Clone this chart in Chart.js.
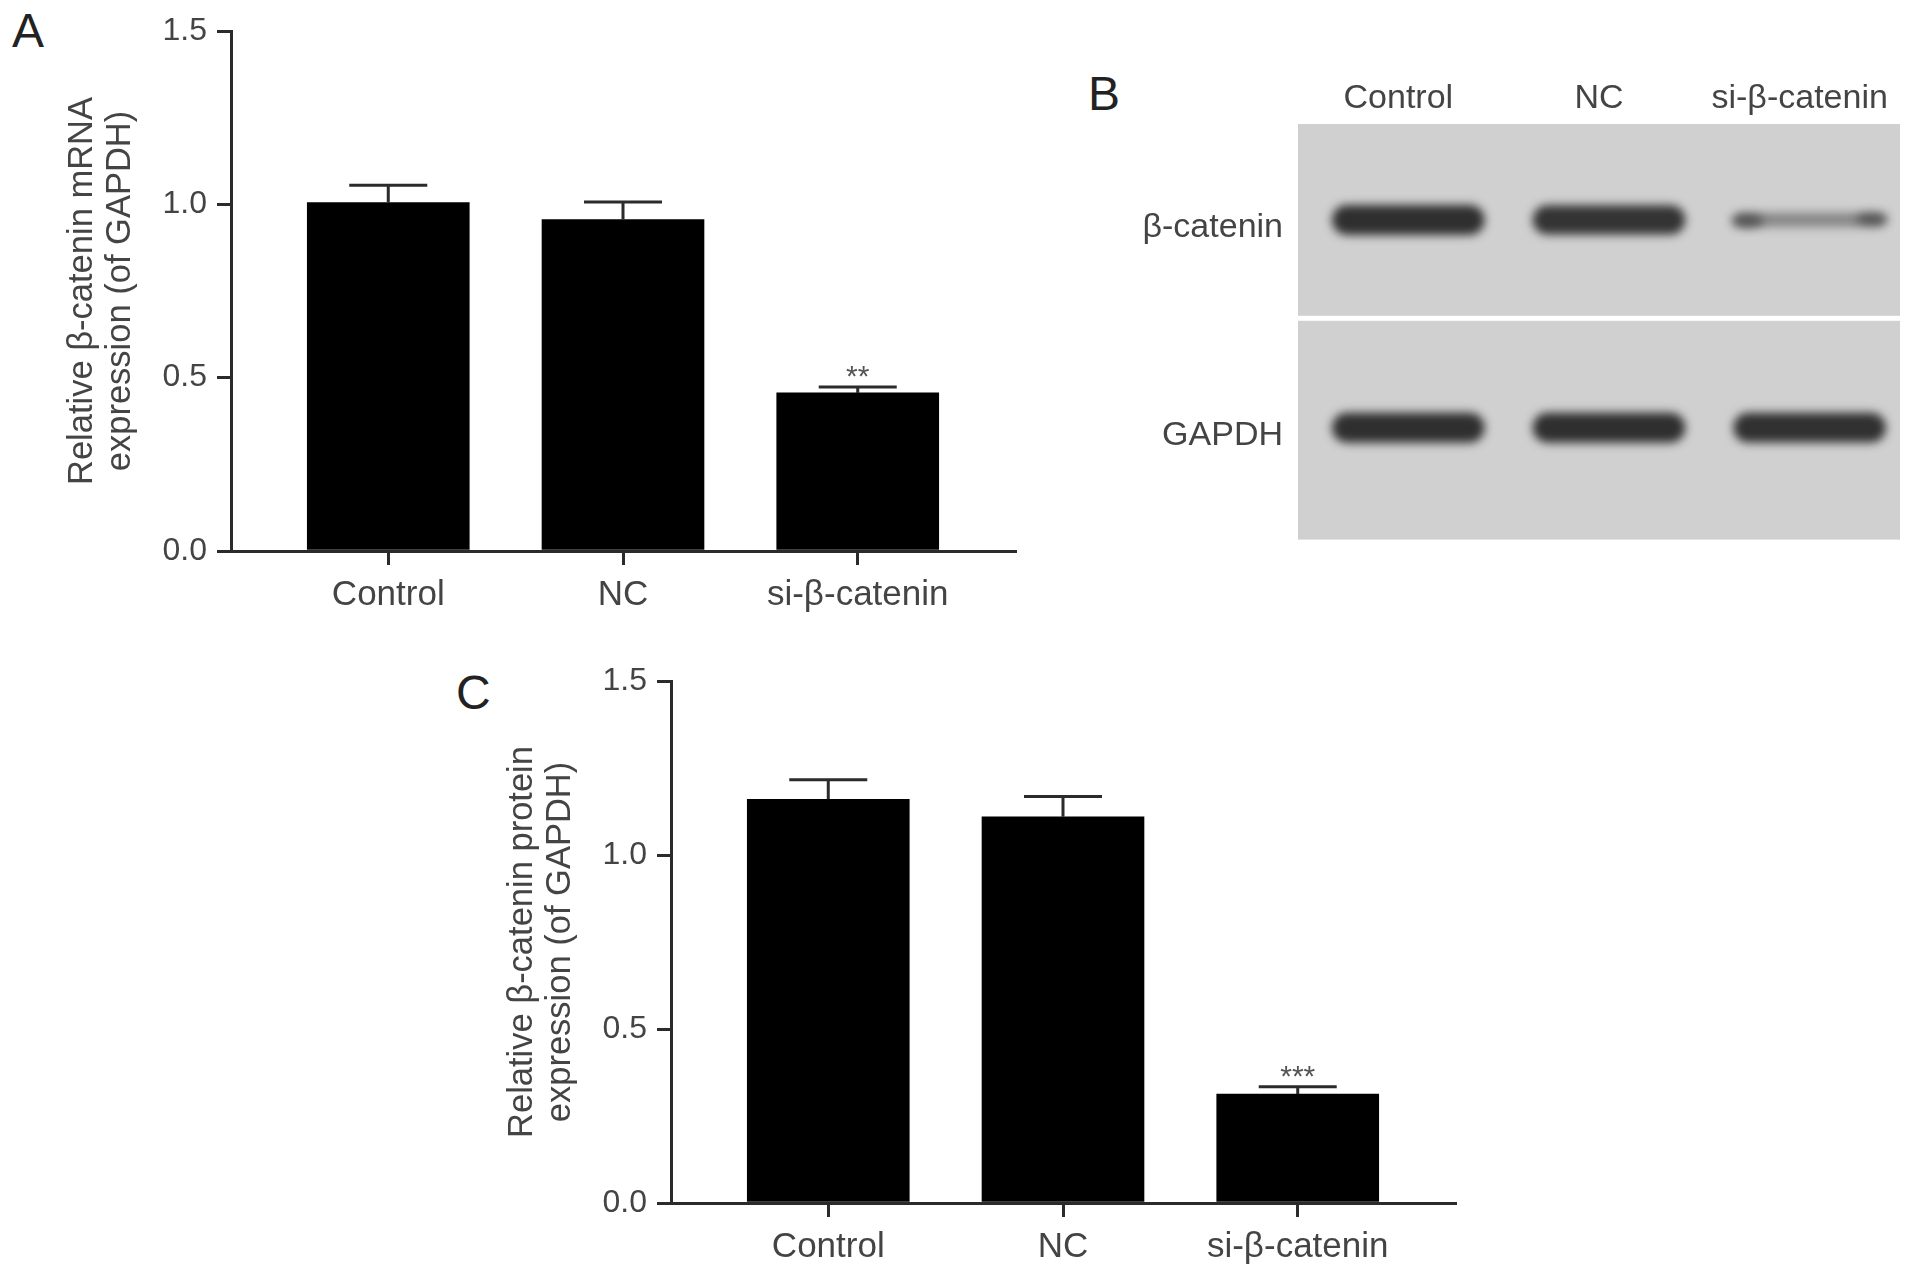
<!DOCTYPE html>
<html>
<head>
<meta charset="utf-8">
<script src="https://cdn.jsdelivr.net/npm/chart.js@4.4.1/dist/chart.umd.min.js"></script>
<style>
  body { margin: 0; width: 1913px; height: 1277px; background: #fff; overflow: hidden; position: relative; }
  canvas { position: absolute; }
  .panel { position: absolute; font-family: 'Liberation Sans', Arial, sans-serif; font-size: 48px; line-height: 1; color: #222; }
</style>
</head>
<body>
<div class="panel" style="left:12px;top:7px">A</div>
<div class="panel" style="left:1088px;top:70px">B</div>
<div class="panel" style="left:456px;top:669px">C</div>

<canvas id="chartA" width="1040" height="640" style="left:0;top:0"></canvas>
<canvas id="chartB" width="833" height="527" style="left:1080px;top:40px"></canvas>
<canvas id="chartC" width="1040" height="637" style="left:440px;top:640px"></canvas>

<script>
// datos
const categorias = ["Control", "NC", "si-β-catenin"];
const ticksY = [0, 0.5, 1.0, 1.5];

const mediasARNm = [1.005, 0.956, 0.456];
const erroresARNm = [0.05, 0.051, 0.017];
const marcasARNm = ["", "", "**"];

const mediasProteina = [1.16, 1.11, 0.313];
const erroresProteina = [0.056, 0.058, 0.021];
const marcasProteina = ["", "", "***"];

const carriles = ["Control", "NC", "si-β-catenin"];
const filasBlot = ["β-catenin", "GAPDH"];
const bandasBetaCatenina = [1.0, 0.95, 0.22];
const bandasGAPDH = [1.0, 1.0, 0.98];

Chart.defaults.font.family = "'Liberation Sans', Arial, sans-serif";
Chart.defaults.color = "#444";

const colorEje = "#2b2b2b";

// barras de error (solo la parte superior) y asteriscos
const barrasError = {
  id: "barrasError",
  afterDatasetsDraw(chart, args, opts) {
    const { ctx, scales: { x, y } } = chart;
    ctx.save();
    ctx.strokeStyle = colorEje;
    ctx.lineWidth = 3;
    ctx.fillStyle = "#555";
    ctx.font = "30px 'Liberation Sans', Arial, sans-serif";
    ctx.textAlign = "center";
    ctx.textBaseline = "alphabetic";
    opts.medias.forEach((m, i) => {
      const px = x.getPixelForValue(i);
      const base = y.getPixelForValue(m);
      const tope = y.getPixelForValue(m + opts.errores[i]);
      ctx.beginPath();
      ctx.moveTo(px, base);
      ctx.lineTo(px, tope);
      ctx.moveTo(px - 39, tope);
      ctx.lineTo(px + 39, tope);
      ctx.stroke();
      if (opts.marcas[i]) {
        ctx.fillText(opts.marcas[i], px, tope - 1);
      }
    });
    ctx.restore();
  }
};

function graficoBarras(idCanvas, medias, errores, marcas, titulo, geo) {
  const ctx = document.getElementById(idCanvas).getContext("2d");
  return new Chart(ctx, {
    type: "bar",
    data: {
      datasets: [{
        data: medias.map((m, i) => ({ x: i, y: m })),
        backgroundColor: "#000",
        borderWidth: 0,
        barThickness: 162
      }]
    },
    options: {
      responsive: false,
      animation: false,
      layout: { padding: { top: geo.arriba, right: geo.derecha, left: 0, bottom: 0 } },
      plugins: {
        legend: { display: false },
        tooltip: { enabled: false },
        barrasError: { medias: medias, errores: errores, marcas: marcas }
      },
      scales: {
        x: {
          type: "linear",
          offset: false,
          min: -0.67,
          max: 2.67,
          afterBuildTicks: (s) => { s.ticks = categorias.map((_, i) => ({ value: i })); },
          afterFit: (s) => { s.height = geo.altoX; },
          ticks: {
            callback: (v) => categorias[v],
            autoSkip: false,
            maxRotation: 0,
            padding: 9,
            color: "#444",
            font: { size: 35 }
          },
          grid: { offset: false, drawOnChartArea: false, drawTicks: true, tickLength: 14, color: colorEje, lineWidth: 3 },
          border: { display: true, color: colorEje, width: 3 }
        },
        y: {
          min: 0,
          max: 1.5,
          afterBuildTicks: (s) => { s.ticks = ticksY.map((v) => ({ value: v })); },
          afterFit: (s) => { s.width = geo.anchoY; },
          ticks: {
            callback: (v) => v.toFixed(1),
            padding: 10,
            color: "#444",
            font: { size: 32 }
          },
          grid: { drawOnChartArea: false, drawTicks: true, tickLength: 14, color: colorEje, lineWidth: 3 },
          border: { display: true, color: colorEje, width: 3 },
          title: {
            display: true,
            text: titulo,
            color: "#444",
            font: { size: 34.5, lineHeight: 1.12 },
            padding: { top: 63, bottom: 0 }
          }
        }
      }
    },
    plugins: [barrasError]
  });
}

graficoBarras("chartA", mediasARNm, erroresARNm, marcasARNm,
  ["Relative β-catenin mRNA", "expression (of GAPDH)"],
  { arriba: 31, derecha: 25, anchoY: 231, altoX: 89 });

graficoBarras("chartC", mediasProteina, erroresProteina, marcasProteina,
  ["Relative β-catenin protein", "expression (of GAPDH)"],
  { arriba: 41, derecha: 25, anchoY: 231, altoX: 74 });

// western blot: fondo gris, separador blanco y bandas difuminadas
const bandasBlot = {
  id: "bandasBlot",
  beforeDraw(chart) {
    const { ctx, chartArea: a } = chart;
    ctx.save();
    ctx.fillStyle = "#d0d0d0";
    ctx.fillRect(a.left, a.top, a.right - a.left, a.bottom - a.top);
    ctx.restore();
  },
  afterDatasetsDraw(chart) {
    const { ctx, chartArea: a, scales: { x, y } } = chart;
    const anchoCarril = x.getPixelForValue(1) - x.getPixelForValue(0);
    ctx.save();
    // separador entre membranas
    const medio = (y.getPixelForValue(0) + y.getPixelForValue(1)) / 2 - 13;
    ctx.fillStyle = "#fff";
    ctx.fillRect(a.left, medio - 3, a.right - a.left, 5);
    ctx.beginPath();
    ctx.rect(a.left, a.top, a.right - a.left, a.bottom - a.top);
    ctx.clip();
    ctx.filter = "blur(5px)";
    [bandasBetaCatenina, bandasGAPDH].forEach((fila, r) => {
      const yc = y.getPixelForValue(r) - 8;
      fila.forEach((v, i) => {
        const xc = x.getPixelForValue(i) + 10;
        const w = anchoCarril * 0.76;
        const h = 30 * Math.sqrt(v);
        ctx.fillStyle = "rgba(38,38,38," + (0.3 + 0.65 * v).toFixed(2) + ")";
        ctx.beginPath();
        ctx.roundRect(xc - w / 2, yc - h / 2, w, h, h / 2);
        ctx.fill();
        if (v < 0.5) {
          // extremos algo mas oscuros en la banda debil
          ctx.fillStyle = "rgba(38,38,38,0.55)";
          ctx.beginPath();
          ctx.ellipse(xc - w / 2 + 14, yc + 1, 16, 7, 0, 0, Math.PI * 2);
          ctx.ellipse(xc + w / 2 - 14, yc - 1, 16, 6, 0, 0, Math.PI * 2);
          ctx.fill();
        }
      });
    });
    ctx.restore();
  }
};

new Chart(document.getElementById("chartB").getContext("2d"), {
  type: "bar",
  data: { labels: carriles, datasets: [] },
  options: {
    responsive: false,
    animation: false,
    layout: { padding: { top: 0, right: 13, left: 0, bottom: 0 } },
    plugins: { legend: { display: false }, tooltip: { enabled: false } },
    scales: {
      x: {
        type: "category",
        labels: carriles,
        position: "top",
        offset: true,
        afterFit: (s) => { s.height = 84; },
        ticks: { padding: -3, color: "#444", font: { size: 34 }, maxRotation: 0 },
        grid: { display: false },
        border: { display: false }
      },
      y: {
        type: "category",
        labels: filasBlot,
        offset: true,
        afterFit: (s) => { s.width = 218; },
        ticks: { padding: 7, color: "#444", font: { size: 34 } },
        grid: { display: false },
        border: { display: false }
      }
    }
  },
  plugins: [bandasBlot]
});
</script>
</body>
</html>
